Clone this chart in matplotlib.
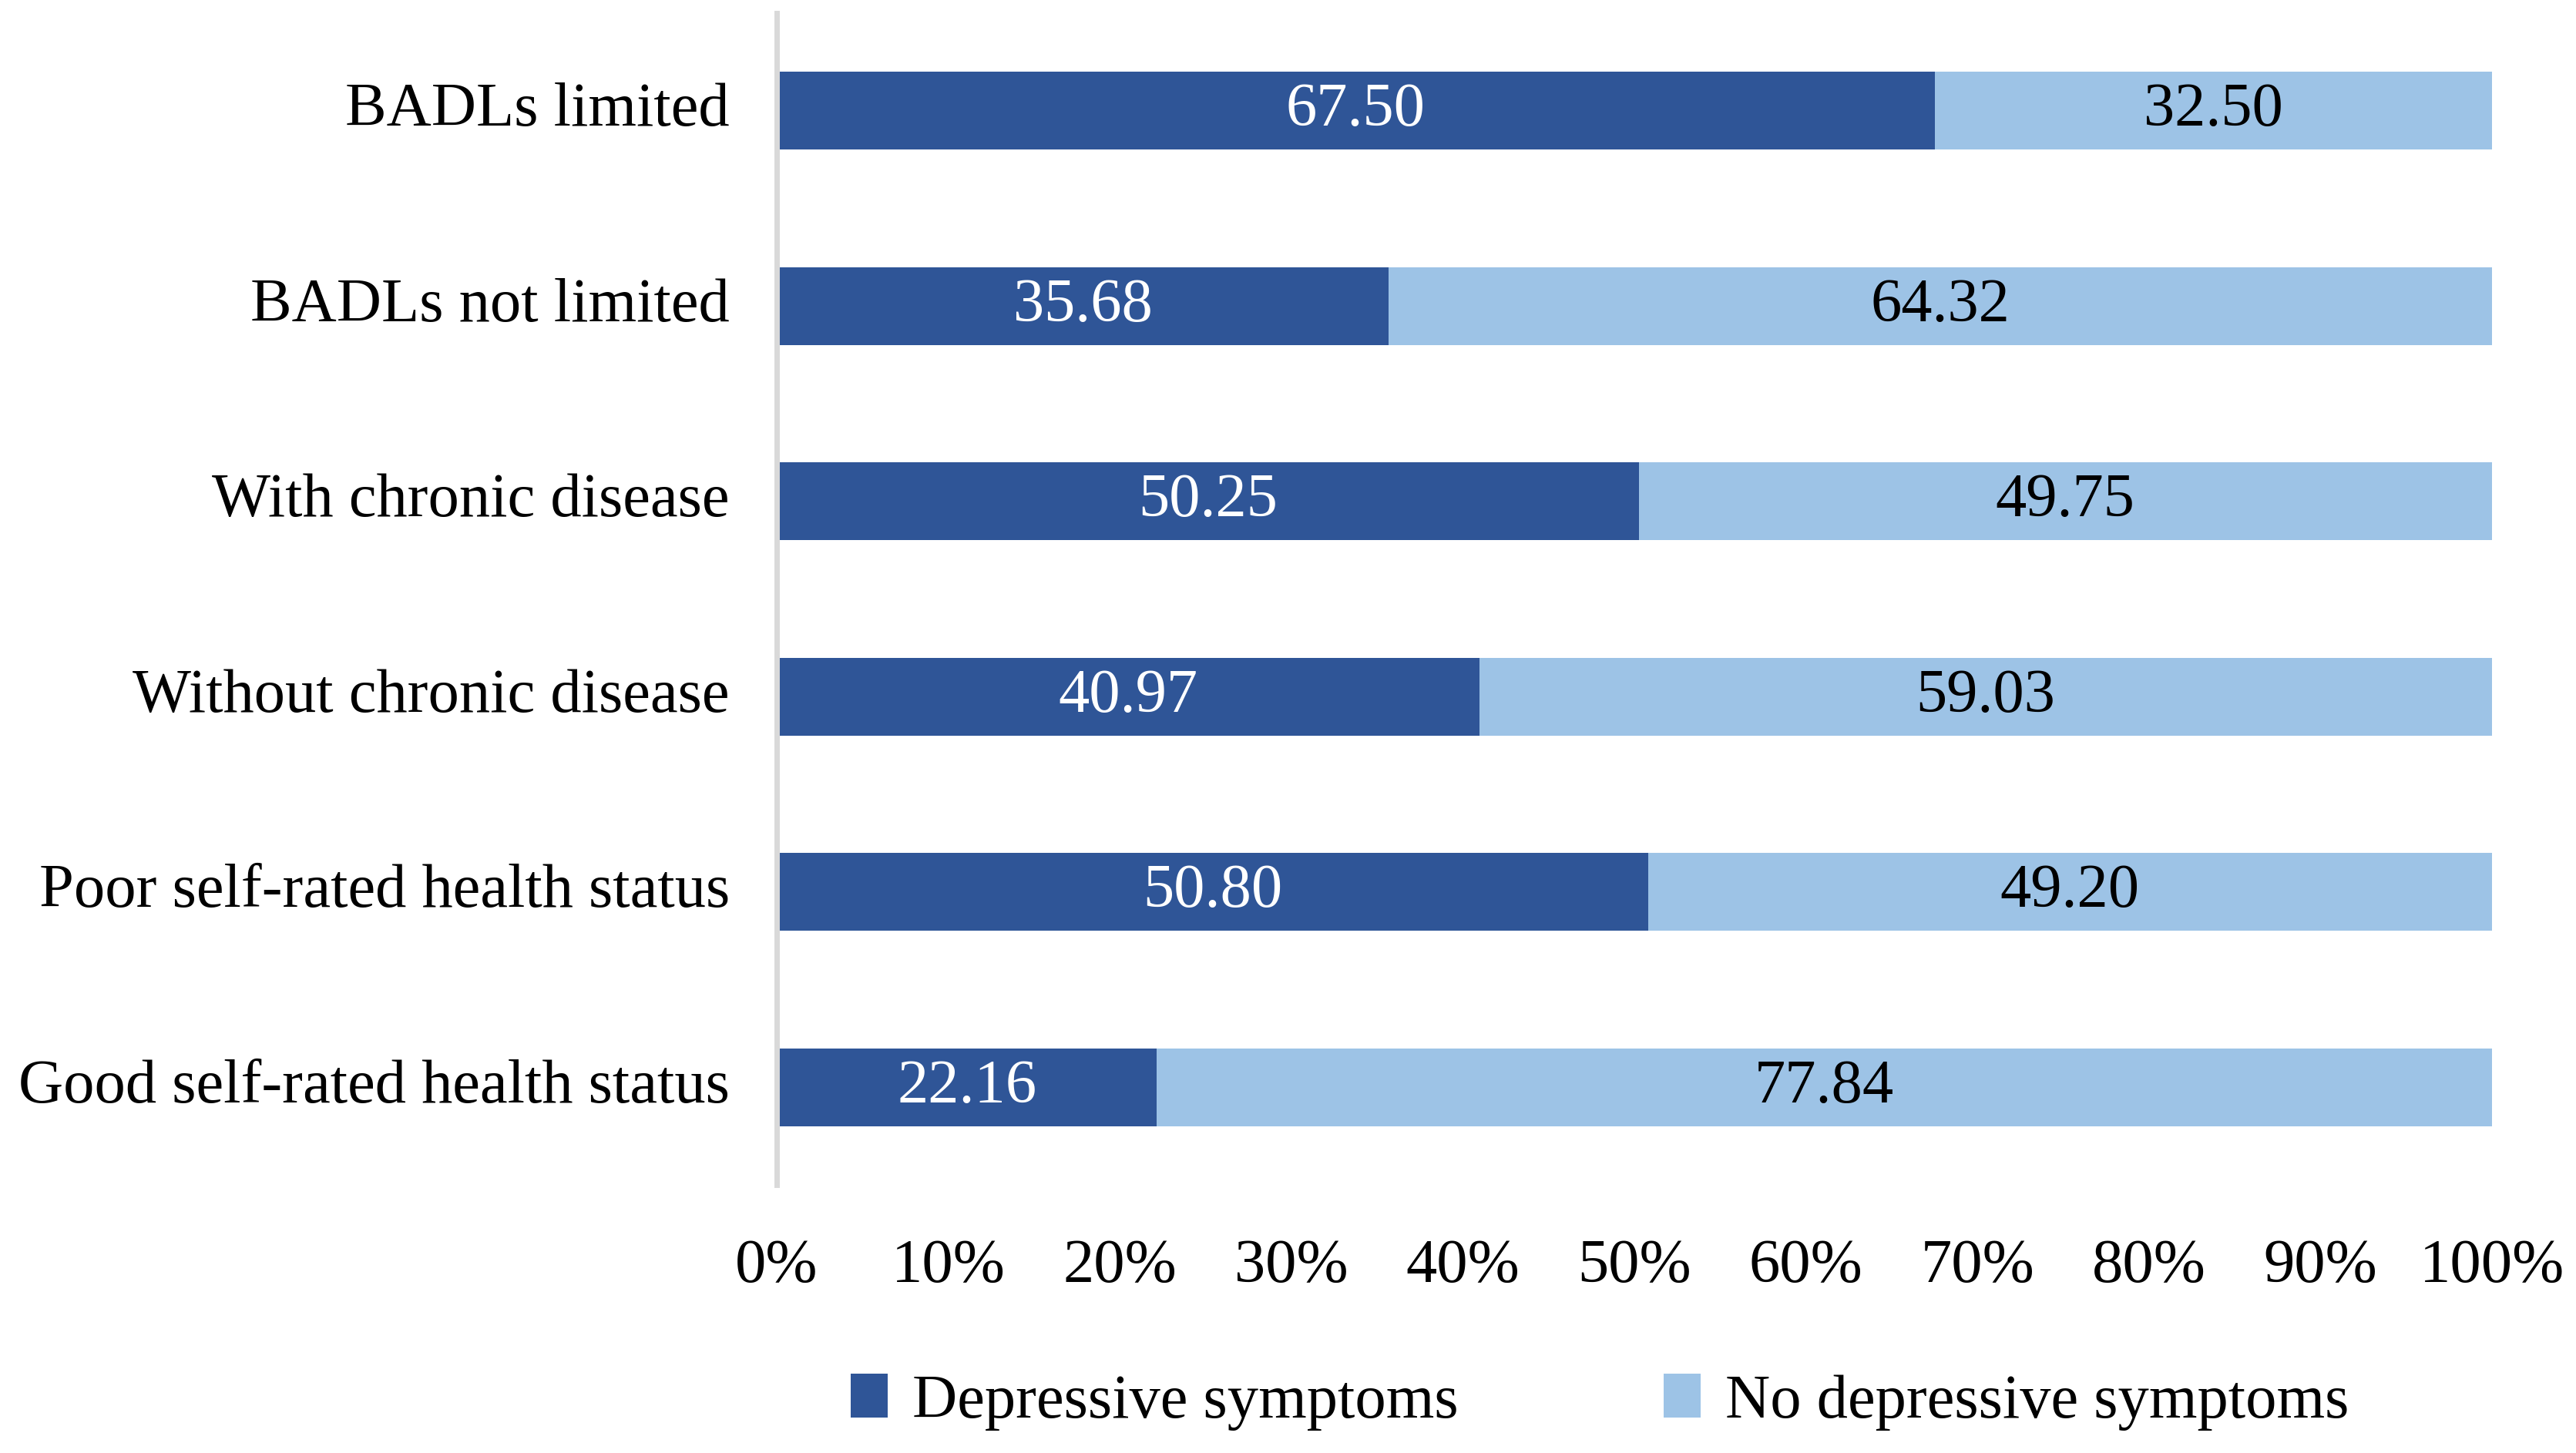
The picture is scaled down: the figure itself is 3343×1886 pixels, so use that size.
import numpy as np
from matplotlib import pyplot as plt
from matplotlib import rcParams

rcParams["font.family"] = ["Liberation Serif", "DejaVu Serif"]
rcParams["font.size"] = 29

categories = ["BADLs limited", "BADLs not limited", "With chronic disease",
              "Without chronic disease", "Poor self-rated health status",
              "Good self-rated health status"]
depressive = [67.50, 35.68, 50.25, 40.97, 50.80, 22.16]
no_depressive = [32.50, 64.32, 49.75, 59.03, 49.20, 77.84]
xtick_values = np.arange(0, 101, 10)
xtick_labels = ["%d%%" % v for v in xtick_values]

dark = "#2F5597"
light = "#9DC3E6"

fig = plt.figure(figsize=(16.715, 9.43), dpi=200)
ax = fig.add_axes([0.3015, 0.1845, 0.6659, 0.8065])

y = np.arange(len(categories))
bars1 = ax.barh(y, depressive, height=0.4, color=dark, label="Depressive symptoms")
bars2 = ax.barh(y, no_depressive, left=depressive, height=0.4, color=light,
                label="No depressive symptoms")

for b, v in zip(bars1, depressive):
    ax.text(b.get_x() + b.get_width() / 2, b.get_y() + b.get_height() / 2,
            "%.2f" % v, ha="center", va="center", color="white")
for b, v in zip(bars2, no_depressive):
    ax.text(b.get_x() + b.get_width() / 2, b.get_y() + b.get_height() / 2,
            "%.2f" % v, ha="center", va="center", color="black")

ax.set_ylim(len(categories) - 0.5, -0.5)
ax.set_xlim(0, 100)
ax.set_yticks(y)
ax.set_yticklabels(categories, va="center")
ax.set_xticks(xtick_values)
ax.set_xticklabels(xtick_labels)
ax.tick_params(axis="both", length=0)
ax.tick_params(axis="x", pad=25)
ax.tick_params(axis="y", pad=22)

for s in ["top", "right", "bottom"]:
    ax.spines[s].set_visible(False)
ax.spines["left"].set_color("#D9D9D9")
ax.spines["left"].set_linewidth(2.5)

fig.legend(loc="center", bbox_to_anchor=(0.621, 0.035), ncol=2, frameon=False,
           handlelength=0.6, handleheight=0.7, columnspacing=3.3, handletextpad=0.4)

plt.savefig("out.png")
